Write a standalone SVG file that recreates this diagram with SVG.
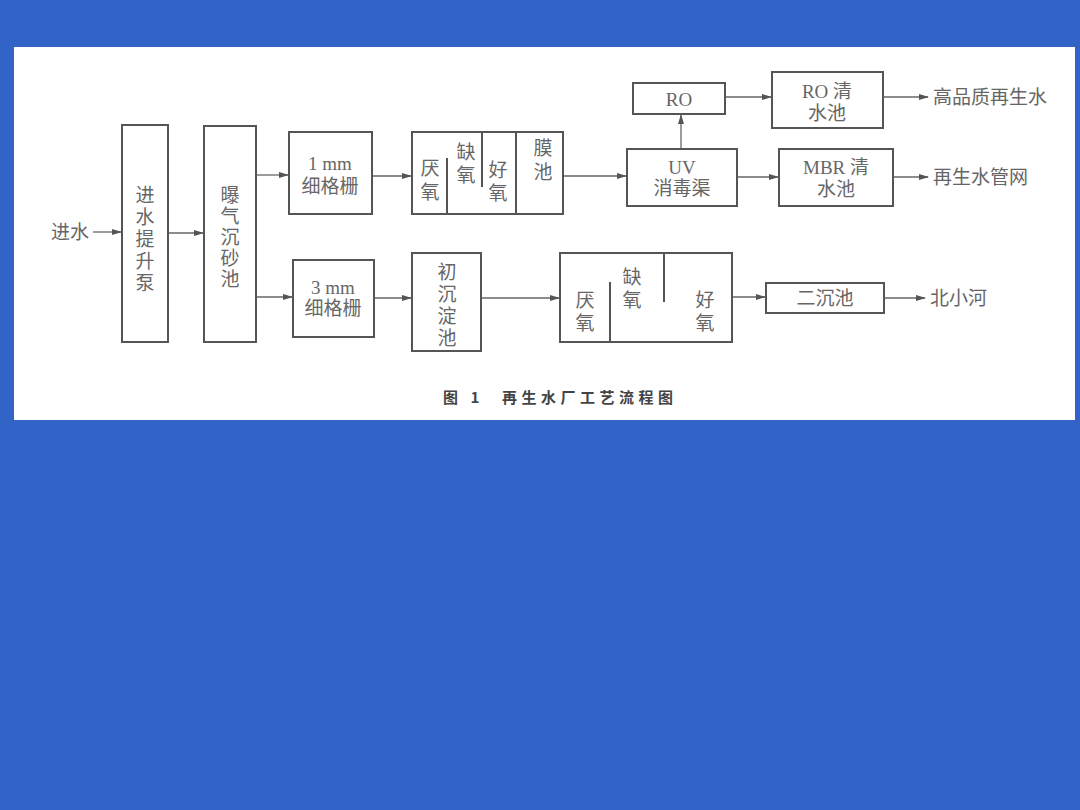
<svg xmlns="http://www.w3.org/2000/svg" width="1080" height="810" viewBox="0 0 1080 810">
<defs>
<marker id="ah" markerWidth="10" markerHeight="8" refX="9" refY="4" orient="auto" markerUnits="userSpaceOnUse">
<path d="M0,1 L10,4 L0,7 Z" fill="#555"/>
</marker>
<style>
.b{fill:none;stroke:#555;stroke-width:2}
.d{stroke:#555;stroke-width:2}
.c{fill:none;stroke:#666;stroke-width:1.3;marker-end:url(#ah)}
text{font-family:"Liberation Serif","Noto Sans CJK SC",serif;font-size:19px;fill:#666;text-anchor:middle;dominant-baseline:central}
.l{text-anchor:start}
.cap{font-family:"Noto Sans CJK SC",sans-serif;font-size:15px;font-weight:bold;fill:#444;letter-spacing:4.5px}
</style>
</defs>
<rect width="1080" height="810" fill="#3264C8"/>
<rect x="14" y="47" width="1061" height="373" fill="#ffffff"/>

<g id="connectors">
<path class="c" d="M93,232 H121"/>
<path class="c" d="M168,233 H203"/>
<path class="c" d="M256,175 H288"/>
<path class="c" d="M256,297 H292"/>
<path class="c" d="M372,176 H411"/>
<path class="c" d="M374,298 H411"/>
<path class="c" d="M563,176 H626"/>
<path class="c" d="M481,298 H559"/>
<path class="c" d="M681,149 V115"/>
<path class="c" d="M725,97 H771"/>
<path class="c" d="M883,97 H928"/>
<path class="c" d="M737,177 H778"/>
<path class="c" d="M893,177 H928"/>
<path class="c" d="M732,297 H765"/>
<path class="c" d="M884,298 H925"/>
</g>

<g id="inlet"><text class="l" x="51" y="232">进水</text></g>

<g id="pump">
<rect class="b" x="122" y="125" width="46" height="217"/>
<text x="145" y="195">进</text><text x="145" y="217">水</text><text x="145" y="239">提</text><text x="145" y="261">升</text><text x="145" y="283">泵</text>
</g>

<g id="grit">
<rect class="b" x="204" y="126" width="52" height="216"/>
<text x="230" y="195">曝</text><text x="230" y="216">气</text><text x="230" y="237">沉</text><text x="230" y="258">砂</text><text x="230" y="279">池</text>
</g>

<g id="screen1">
<rect class="b" x="289" y="132" width="83" height="82"/>
<text x="330" y="163">1 mm</text><text x="330" y="186">细格栅</text>
</g>

<g id="mbr">
<rect class="b" x="412" y="132" width="151" height="82"/>
<line class="d" x1="447" y1="158" x2="447" y2="214"/>
<line class="d" x1="482" y1="132" x2="482" y2="187"/>
<line class="d" x1="516" y1="132" x2="516" y2="214"/>
<text x="430" y="168">厌</text><text x="430" y="192">氧</text>
<text x="466" y="152">缺</text><text x="466" y="175">氧</text>
<text x="498" y="170">好</text><text x="498" y="193">氧</text>
<text x="543" y="148">膜</text><text x="543" y="172">池</text>
</g>

<g id="uv">
<rect class="b" x="627" y="149" width="110" height="57"/>
<text x="682" y="167">UV</text><text x="682" y="188">消毒渠</text>
</g>

<g id="ro">
<rect class="b" x="633" y="83" width="92" height="31"/>
<text x="679" y="99">RO</text>
</g>

<g id="ro-tank">
<rect class="b" x="772" y="72" width="111" height="56"/>
<text x="827" y="91">RO 清</text><text x="827" y="113">水池</text>
</g>

<g id="mbr-tank">
<rect class="b" x="779" y="149" width="114" height="57"/>
<text x="836" y="167">MBR 清</text><text x="836" y="189">水池</text>
</g>

<g id="out-high"><text class="l" x="933" y="97">高品质再生水</text></g>
<g id="out-net"><text class="l" x="933" y="177">再生水管网</text></g>

<g id="screen3">
<rect class="b" x="293" y="260" width="81" height="77"/>
<text x="333" y="287">3 mm</text><text x="333" y="308">细格栅</text>
</g>

<g id="primary">
<rect class="b" x="412" y="253" width="69" height="98"/>
<text x="447" y="272">初</text><text x="447" y="294">沉</text><text x="447" y="316">淀</text><text x="447" y="338">池</text>
</g>

<g id="aao">
<rect class="b" x="560" y="253" width="172" height="89"/>
<line class="d" x1="610" y1="282" x2="610" y2="342"/>
<line class="d" x1="664" y1="253" x2="664" y2="302"/>
<text x="585" y="300">厌</text><text x="585" y="323">氧</text>
<text x="632" y="277">缺</text><text x="632" y="300">氧</text>
<text x="705" y="300">好</text><text x="705" y="323">氧</text>
</g>

<g id="secondary">
<rect class="b" x="766" y="283" width="118" height="30"/>
<text x="825" y="298">二沉池</text>
</g>

<g id="out-river"><text class="l" x="930" y="298">北小河</text></g>

<g id="caption">
<text class="cap l" x="443" y="396">图 1</text>
<text class="cap l" x="502" y="396">再生水厂工艺流程图</text>
</g>
</svg>
